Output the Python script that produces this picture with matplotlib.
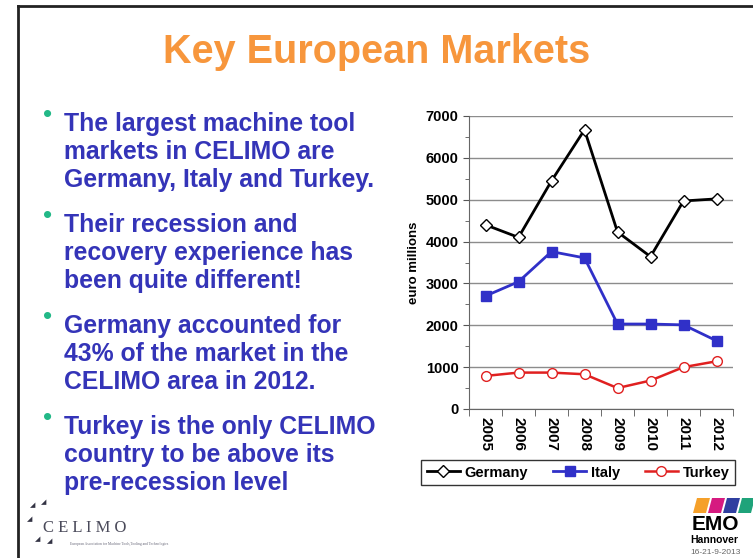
import numpy as np
import matplotlib
matplotlib.use('Agg')
from matplotlib import pyplot as plt
from matplotlib.patches import Polygon
from matplotlib.lines import Line2D

plt.rcParams['font.family'] = ['Liberation Sans', 'DejaVu Sans']

# data (euro millions)
years = ['2005', '2006', '2007', '2008', '2009', '2010', '2011', '2012']
germany = [4400, 4100, 5450, 6670, 4230, 3640, 4970, 5020]
italy = [2700, 3040, 3760, 3610, 2030, 2030, 2010, 1630]
turkey = [790, 870, 870, 830, 500, 680, 1000, 1140]

bullets = [
    ['The largest machine tool', 'markets in CELIMO are', 'Germany, Italy and Turkey.'],
    ['Their recession and', 'recovery experience has', 'been quite different!'],
    ['Germany accounted for', '43% of the market in the', 'CELIMO area in 2012.'],
    ['Turkey is the only CELIMO', 'country to be above its', 'pre-recession level'],
]

W, H = 753, 558
fig = plt.figure(figsize=(W / 100, H / 100), dpi=100)
fig.patch.set_facecolor('white')

def fx(px):
    return px / W

def fy(py):
    return 1 - py / H

# slide frame (left and top edges visible)
fig.add_artist(Line2D([fx(18), fx(18)], [fy(6), fy(560)], color='#222222', lw=2))
fig.add_artist(Line2D([fx(18), fx(755)], [fy(6), fy(6)], color='#222222', lw=2))

# title
fig.text(fx(377), fy(63), 'Key European Markets', ha='center', va='baseline',
         fontsize=28.5, fontweight='bold', color='#F7963C')

# bullet text
blue = '#3434B8'
y0 = 131
for b in bullets:
    fig.text(fx(48), fy(y0 - 16), '\u2022', ha='center', va='center',
             fontsize=19, color='#22B887')
    for k, line in enumerate(b):
        fig.text(fx(64), fy(y0 + k * 28), line, ha='left', va='baseline',
                 fontsize=17.8, fontweight='bold', color=blue)
    y0 += 101

# chart
ax = fig.add_axes([fx(469), fy(409), fx(733) - fx(469), (409 - 116) / H])
x = np.arange(len(years))
ax.plot(x, germany, color='black', lw=2, marker='D', markersize=6,
        markerfacecolor='white', markeredgecolor='black', markeredgewidth=1,
        label='Germany', zorder=3)
ax.plot(x, italy, color='#3030C8', lw=2, marker='s', markersize=7,
        markerfacecolor='#3030C8', markeredgecolor='#3030C8',
        label='Italy', zorder=3)
ax.plot(x, turkey, color='#E02020', lw=1.8, marker='o', markersize=7,
        markerfacecolor='white', markeredgecolor='#E02020', markeredgewidth=1,
        label='Turkey', zorder=3)

ax.set_xlim(-0.5, len(years) - 0.5)
ax.set_ylim(0, 7000)
ax.set_yticks(np.arange(0, 7001, 1000))
ax.set_yticks(np.arange(0, 7001, 500), minor=True)
ax.yaxis.grid(True, color='#8C8C8C', lw=1)
ax.set_axisbelow(True)
ax.set_xticks(x)
ax.set_xticklabels(years, rotation=-90, fontweight='bold', fontsize=11)
ax.set_xticks(np.arange(-0.5, len(years)), minor=True)
ax.tick_params(axis='x', which='major', length=0, pad=6)
ax.tick_params(axis='x', which='minor', length=5, color='#555555', direction='out')
ax.tick_params(axis='y', which='major', length=4, color='#555555', labelsize=10.5)
ax.tick_params(axis='y', which='minor', length=3, color='#555555')
for t in ax.get_yticklabels():
    t.set_fontweight('bold')
for s in ['top', 'right']:
    ax.spines[s].set_visible(False)
ax.spines['left'].set_color('#666666')
ax.spines['bottom'].set_color('#666666')
ax.set_ylabel('euro millions', fontsize=9.5, fontweight='bold')
ax.yaxis.set_label_coords((420 - 469) / 264, 0.5)

leg = fig.legend(loc='center', bbox_to_anchor=(fx(578), fy(472.5)), ncol=3,
                 frameon=True, fancybox=False, edgecolor='black',
                 prop={'weight': 'bold', 'size': 10.5}, handlelength=2.3,
                 columnspacing=1.7, handletextpad=0.3, borderpad=0.35)
leg.get_frame().set_linewidth(1)

# CELIMO logo
fig.text(fx(43), fy(532), 'C E L I M O', ha='left', va='baseline',
         fontsize=12, family='Liberation Serif', color='#4A4A5A')
fig.text(fx(70), fy(545), 'European Association for Machine Tools,Tooling and Technologies',
         ha='left', va='baseline', fontsize=2.6, family='Liberation Serif',
         color='#666677')
for (sx, sy) in [(33, 506), (44, 503), (30, 520), (38, 540), (50, 542)]:
    fig.text(fx(sx), fy(sy), '\u25e2', fontsize=5, color='#333344',
             ha='center', va='center')

# EMO Hannover logo
cols = ['#F5A02A', '#D61A80', '#2F3FA0', '#1FA37A']
for i, c in enumerate(cols):
    x0 = 693 + i * 15
    pts = [(x0, 513), (x0 + 13, 513), (x0 + 17, 498), (x0 + 4, 498)]
    fig.add_artist(Polygon([(fx(a), fy(b)) for a, b in pts], closed=True,
                           facecolor=c, edgecolor='none'))
fig.text(fx(692), fy(530), 'EMO', ha='left', va='baseline', fontsize=15,
         fontweight='bold', color='black')
fig.text(fx(690), fy(543), 'Hannover', ha='left', va='baseline', fontsize=7.5,
         fontweight='bold', color='black')
fig.text(fx(690), fy(554), '16-21-9-2013', ha='left', va='baseline', fontsize=6,
         color='#666666')

fig.savefig('out.png', dpi=100)
